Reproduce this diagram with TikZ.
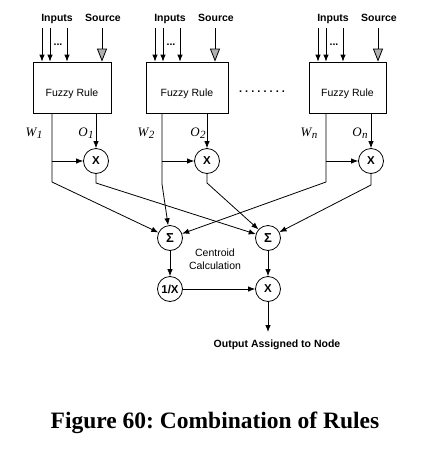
\documentclass[tikz,border=0pt]{standalone}
\usepackage{fontspec}
\setmainfont{Liberation Serif}
\setsansfont{Liberation Sans}
\usetikzlibrary{arrows.meta,calc}
\definecolor{ink}{HTML}{000000}
\definecolor{srcgray}{HTML}{B0B0B0}
\newcommand{\wsub}[2]{#1\kern0.5pt\raisebox{-2.5pt}{\fontsize{11}{12}\selectfont#2}}
\frenchspacing
\tikzset{
  rulebox/.style={draw=ink,line width=0.8pt,minimum height=51pt,inner sep=0pt,text height=17pt,text depth=0pt,font=\sffamily\fontsize{10.5}{12}\selectfont},
  opnode/.style={circle,draw=ink,line width=0.8pt,minimum size=25pt,inner sep=0pt,font=\sffamily\bfseries\fontsize{11.5}{12}\selectfont},
  sumnode/.style={opnode,font=\sffamily\bfseries\fontsize{13}{14}\selectfont},
  arrow/.style={-{Latex[length=7pt,width=5.5pt]},line width=0.8pt,draw=ink},
  srcarrow/.style={-{Triangle[length=13pt,width=10pt,fill=srcgray]},line width=0.8pt,draw=ink},
  toplab/.style={font=\sffamily\bfseries\fontsize{10.5}{12}\selectfont,anchor=base,inner sep=0pt},
  wlab/.style={font=\itshape\fontsize{13}{14}\selectfont,inner sep=0pt}
}
\begin{document}
\begin{tikzpicture}[
    x=1pt,y=-1pt,
    note/.style={font=\sffamily\fontsize{10.5}{13}\selectfont,align=center},
    caption/.style={font=\bfseries\fontsize{23.5}{28}\selectfont,anchor=base}
  ]
    \useasboundingbox (0,0) rectangle (429,451);

    \node[rulebox,minimum width=78pt] (rule1) at (72,87.5) {Fuzzy Rule};
    \node[rulebox,minimum width=82pt] (rule2) at (187,87.5) {Fuzzy Rule};
    \node[rulebox,minimum width=77pt] (rule3) at (347.5,87.5) {Fuzzy Rule};
    \node[font=\sffamily\bfseries\fontsize{11}{12}\selectfont] (more) at (262,92) {. . . . . . . .};

    \foreach \r/\lx in {1/33,2/146,3/309}{
      \node[toplab] (inp\r) at (\lx+24,21.5) {Inputs};
      \node[toplab] (src\r) at (\lx+70,21.5) {Source};
      \node[toplab] (dots\r) at (\lx+25,45) {...};
      \foreach \dx/\k in {9/a,17/b,34/c}{
        \coordinate (in\r\k) at (\lx+\dx,28);
        \draw[arrow] (in\r\k) -- (in\r\k |- rule\r.north);
      }
      \coordinate (sin\r) at (\lx+69,28);
      \draw[srcarrow] (sin\r) -- (sin\r |- rule\r.north);
    }

    \node[opnode] (mul1) at (96,161) {X};
    \node[opnode] (mul2) at (207,161) {X};
    \node[opnode] (mul3) at (371,161) {X};
    \node[sumnode] (sum1) at (170,238) {Σ};
    \node[sumnode] (sum2) at (268,238) {Σ};
    \node[opnode] (inv) at (170,289) {1/X};
    \node[opnode] (prod) at (268,289) {X};

    \node[wlab] (wl1) at (34,133) {\wsub{W}{1}};
    \node[wlab] (ol1) at (86,133) {\wsub{O}{1}};
    \node[wlab] (wl2) at (146,133) {\wsub{W}{2}};
    \node[wlab] (ol2) at (198,133) {\wsub{O}{2}};
    \node[wlab] (wl3) at (309,133) {\wsub{W}{n}};
    \node[wlab] (ol3) at (360,133) {\wsub{O}{n}};

    \coordinate (w1) at (52,182);
    \coordinate (w2) at (162,184);
    \coordinate (w3) at (326,182);
    \coordinate (o1) at (96,183);
    \coordinate (o2) at (207,183);
    \coordinate (o3) at (371,185);

    \foreach \r in {1,2,3}{
      \draw[arrow] (mul\r |- rule\r.south) -- (mul\r);
      \draw[arrow] (w\r |- mul\r) -- (mul\r);
      \draw[arrow] (w\r |- rule\r.south) -- (w\r) -- (sum1);
      \draw[arrow] (mul\r) -- (o\r) -- (sum2);
    }

    \draw[arrow] (sum1) -- (inv);
    \draw[arrow] (sum2) -- (prod);
    \draw[arrow] (inv) -- (prod);
    \node[note] (cent) at (215,259) {Centroid\\Calculation};

    \coordinate (outpt) at (268,332);
    \draw[arrow] (prod) -- (outpt);
    \node[toplab] (outlab) at (277,347) {Output Assigned to Node};

    \node[caption] (title) at (215,428) {Figure 60: Combination of Rules};
  \end{tikzpicture}
\end{document}
